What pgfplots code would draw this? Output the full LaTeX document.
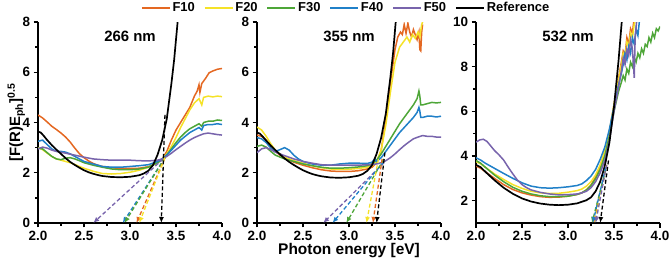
\documentclass[border=0pt]{standalone}
\usepackage{fontspec}
\setmainfont{Liberation Sans}
\usepackage{pgfplots}
\pgfplotsset{compat=1.18}
\usetikzlibrary{arrows.meta}
\definecolor{cA}{RGB}{228,104,34}
\definecolor{cB}{RGB}{245,226,40}
\definecolor{cC}{RGB}{78,166,56}
\definecolor{cD}{RGB}{32,128,200}
\definecolor{cE}{RGB}{120,100,172}
\tikzset{
  sA/.style={color=cA, line width=1.5bp},
  sB/.style={color=cB, line width=1.5bp},
  sC/.style={color=cC, line width=1.5bp},
  sD/.style={color=cD, line width=1.5bp},
  sE/.style={color=cE, line width=1.5bp},
  sR/.style={color=black, line width=1.7bp},
  dsh/.style={line width=1.3bp, dash pattern=on 4bp off 2.5bp, -{Latex[length=6bp,width=5bp]}},
}
\pgfplotsset{
  panel/.style={
    scale only axis, width=184bp, height=201bp,
    xmin=2, xmax=4,
    axis x line*=bottom, axis y line*=left,
    axis line style={line width=1.9bp},
    tick align=outside,
    major tick length=4.5bp, minor tick length=3bp,
    every tick/.style={line width=1.3bp, black},
    xtick={2,2.5,3,3.5,4}, minor x tick num=1,
    xticklabel style={/pgf/number format/.cd, fixed, fixed zerofill, precision=1},
    /pgf/number format/assume math mode=true,
    tick label style={font=\fontsize{13.5}{15}\selectfont\bfseries},
    clip=true,
  },
}
\begin{document}
\begin{tikzpicture}
\useasboundingbox (0,0) rectangle (669bp,264bp);
% ---------- Panel 1: 266 nm ----------
\begin{axis}[panel, at={(38bp,41bp)}, anchor=south west,
  ymin=0, ymax=8, ytick={0,2,4,6,8}, minor y tick num=1,
  ylabel={[F(R)E\textsubscript{ph}]\textsuperscript{0.5}},
  ylabel style={font=\fontsize{15}{17}\selectfont\bfseries, at={(axis description cs:-0.118,0.5)}, anchor=center, rotate=0},
]
\addplot[sA] coordinates {(2.00,4.30)(2.05,4.18)(2.10,4.02)(2.15,3.85)(2.20,3.72)(2.25,3.58)(2.30,3.42)(2.35,3.22)(2.40,2.98)(2.45,2.76)(2.50,2.60)(2.55,2.47)(2.60,2.37)(2.65,2.30)(2.70,2.25)(2.80,2.20)(2.90,2.17)(3.00,2.17)(3.10,2.18)(3.20,2.24)(3.25,2.31)(3.30,2.40)(3.35,2.55)(3.40,2.85)(3.45,3.30)(3.50,3.70)(3.55,4.00)(3.60,4.30)(3.65,4.60)(3.70,5.05)(3.73,5.25)(3.75,5.50)(3.76,5.20)(3.78,5.55)(3.82,5.75)(3.86,5.98)(3.90,6.05)(3.95,6.12)(4.00,6.15)};
\addplot[sB] coordinates {(2.00,3.00)(2.05,2.92)(2.10,2.78)(2.15,2.65)(2.20,2.55)(2.25,2.50)(2.30,2.45)(2.35,2.40)(2.40,2.33)(2.45,2.25)(2.50,2.18)(2.60,2.06)(2.70,1.97)(2.80,1.95)(2.90,1.97)(3.00,2.02)(3.10,2.10)(3.20,2.22)(3.30,2.42)(3.35,2.55)(3.40,2.75)(3.45,3.05)(3.50,3.40)(3.55,3.80)(3.60,4.15)(3.65,4.50)(3.70,4.78)(3.75,4.95)(3.78,4.70)(3.80,5.00)(3.85,5.05)(3.90,5.02)(3.95,5.05)(4.00,5.03)};
\addplot[sC] coordinates {(2.00,2.98)(2.05,2.95)(2.10,2.80)(2.15,2.65)(2.20,2.55)(2.25,2.52)(2.30,2.58)(2.35,2.60)(2.40,2.55)(2.45,2.48)(2.50,2.40)(2.60,2.30)(2.70,2.22)(2.80,2.15)(2.90,2.12)(3.00,2.12)(3.10,2.15)(3.20,2.22)(3.30,2.40)(3.35,2.52)(3.40,2.72)(3.45,2.95)(3.50,3.20)(3.55,3.42)(3.60,3.60)(3.65,3.75)(3.70,3.85)(3.75,3.95)(3.78,3.85)(3.80,4.00)(3.85,4.05)(3.90,4.05)(3.95,4.10)(4.00,4.08)};
\addplot[sD] coordinates {(2.00,3.25)(2.05,3.30)(2.10,3.12)(2.15,2.95)(2.20,2.85)(2.25,2.85)(2.30,2.82)(2.35,2.75)(2.40,2.65)(2.45,2.55)(2.50,2.45)(2.60,2.35)(2.70,2.25)(2.80,2.22)(2.90,2.22)(3.00,2.25)(3.10,2.28)(3.20,2.32)(3.30,2.45)(3.35,2.55)(3.40,2.70)(3.45,2.90)(3.50,3.10)(3.55,3.30)(3.60,3.45)(3.65,3.60)(3.70,3.70)(3.75,3.80)(3.78,3.70)(3.80,3.88)(3.85,3.92)(3.90,3.92)(3.95,3.95)(4.00,3.92)};
\addplot[sE] coordinates {(2.00,2.95)(2.05,3.02)(2.10,2.98)(2.15,2.90)(2.20,2.85)(2.30,2.78)(2.40,2.70)(2.50,2.62)(2.60,2.55)(2.70,2.52)(2.80,2.50)(2.90,2.50)(3.00,2.50)(3.10,2.48)(3.20,2.47)(3.30,2.50)(3.35,2.55)(3.40,2.65)(3.45,2.78)(3.50,2.92)(3.55,3.05)(3.60,3.18)(3.65,3.30)(3.70,3.40)(3.75,3.48)(3.80,3.55)(3.85,3.58)(3.90,3.55)(3.95,3.52)(4.00,3.50)};
\addplot[sR] coordinates {(2.00,3.64)(2.03,3.60)(2.06,3.48)(2.10,3.30)(2.15,3.10)(2.20,2.92)(2.25,2.75)(2.30,2.58)(2.35,2.43)(2.40,2.31)(2.45,2.20)(2.50,2.10)(2.55,2.02)(2.60,1.96)(2.65,1.91)(2.70,1.87)(2.80,1.83)(2.90,1.82)(3.00,1.84)(3.10,1.90)(3.15,1.97)(3.20,2.08)(3.25,2.30)(3.30,2.72)(3.35,3.30)(3.40,4.15)(3.45,5.55)(3.48,6.50)(3.52,8.10)(3.55,9.20)};
\addplot[dsh, cE] coordinates {(3.36,2.55)(2.60,0)};
\addplot[dsh, cD] coordinates {(3.38,2.60)(2.92,0)};
\addplot[dsh, cC] coordinates {(3.38,2.60)(2.94,0)};
\addplot[dsh, cA] coordinates {(3.38,2.60)(3.07,0)};
\addplot[dsh, cB] coordinates {(3.38,2.60)(3.10,0)};
\addplot[dsh, black] coordinates {(3.38,4.30)(3.34,0)};
\node[font=\fontsize{15}{17}\selectfont\bfseries] at (rel axis cs:0.5,0.93) {266 nm};
\end{axis}
% ---------- Panel 2: 355 nm ----------
\begin{axis}[panel, at={(257bp,41bp)}, anchor=south west,
  ymin=0, ymax=8, ytick={0,2,4,6,8}, minor y tick num=1,
  legend columns=6,
  legend style={draw=none, fill=none, at={(axis description cs:0.485,1.07)}, anchor=center,
    font=\fontsize{13}{15}\selectfont\bfseries,
    /tikz/every even column/.append style={column sep=7bp},
    inner sep=0pt},
  legend image code/.code={\draw[#1] (0bp,0bp) -- (28bp,0bp);},
]
\addplot[sA] coordinates {(2.00,3.50)(2.05,3.45)(2.10,3.30)(2.15,3.05)(2.20,2.85)(2.25,2.70)(2.30,2.58)(2.40,2.42)(2.50,2.30)(2.60,2.20)(2.70,2.12)(2.80,2.07)(2.90,2.05)(3.00,2.05)(3.10,2.08)(3.20,2.15)(3.25,2.22)(3.30,2.40)(3.35,2.90)(3.40,4.10)(3.45,5.60)(3.50,6.90)(3.53,7.40)(3.56,7.60)(3.58,7.50)(3.60,7.90)(3.62,7.55)(3.64,7.95)(3.66,7.60)(3.68,7.40)(3.70,7.70)(3.72,7.50)(3.74,7.30)(3.76,7.60)(3.77,6.90)(3.78,6.85)(3.79,7.60)(3.80,7.90)};
\addlegendentry{F10}
\addplot[sB] coordinates {(2.00,3.82)(2.05,3.70)(2.10,3.45)(2.15,3.15)(2.20,2.90)(2.25,2.75)(2.30,2.62)(2.40,2.48)(2.50,2.38)(2.60,2.28)(2.70,2.20)(2.80,2.15)(2.90,2.13)(3.00,2.14)(3.10,2.17)(3.20,2.22)(3.25,2.28)(3.30,2.45)(3.35,2.90)(3.40,3.90)(3.45,5.20)(3.50,6.40)(3.55,7.00)(3.60,7.25)(3.63,7.40)(3.66,7.20)(3.69,7.50)(3.72,7.35)(3.75,7.60)(3.77,7.40)(3.79,7.90)(3.80,8.00)};
\addlegendentry{F20}
\addplot[sC] coordinates {(2.00,3.05)(2.05,3.10)(2.10,3.02)(2.15,2.85)(2.20,2.70)(2.30,2.55)(2.40,2.45)(2.50,2.35)(2.60,2.28)(2.70,2.22)(2.80,2.18)(2.90,2.18)(3.00,2.20)(3.10,2.23)(3.20,2.28)(3.25,2.35)(3.30,2.50)(3.35,2.75)(3.40,3.05)(3.45,3.35)(3.50,3.65)(3.55,3.95)(3.60,4.20)(3.65,4.45)(3.70,4.70)(3.74,4.95)(3.76,5.25)(3.77,5.05)(3.78,4.70)(3.80,4.70)(3.85,4.75)(3.90,4.80)(3.95,4.78)(4.00,4.80)};
\addlegendentry{F30}
\addplot[sD] coordinates {(2.00,3.40)(2.05,3.35)(2.10,3.20)(2.15,2.98)(2.20,2.85)(2.25,2.92)(2.30,3.00)(2.35,2.90)(2.40,2.70)(2.45,2.55)(2.50,2.45)(2.60,2.35)(2.70,2.30)(2.80,2.30)(2.90,2.35)(3.00,2.38)(3.10,2.38)(3.20,2.37)(3.25,2.42)(3.28,2.55)(3.30,2.45)(3.35,2.60)(3.40,2.85)(3.45,3.10)(3.50,3.35)(3.55,3.60)(3.60,3.80)(3.65,4.00)(3.70,4.20)(3.74,4.40)(3.76,4.60)(3.77,4.45)(3.78,4.20)(3.80,4.20)(3.85,4.25)(3.90,4.25)(3.95,4.22)(4.00,4.25)};
\addlegendentry{F40}
\addplot[sE] coordinates {(2.00,2.80)(2.05,2.95)(2.10,3.00)(2.15,2.92)(2.20,2.82)(2.30,2.68)(2.40,2.55)(2.50,2.45)(2.60,2.38)(2.70,2.32)(2.80,2.30)(2.90,2.30)(3.00,2.30)(3.10,2.30)(3.20,2.32)(3.30,2.35)(3.35,2.40)(3.40,2.48)(3.45,2.60)(3.50,2.75)(3.55,2.92)(3.60,3.08)(3.65,3.22)(3.70,3.35)(3.75,3.42)(3.80,3.48)(3.85,3.45)(3.90,3.45)(3.95,3.42)(4.00,3.42)};
\addlegendentry{F50}
\addplot[sR] coordinates {(2.00,3.60)(2.03,3.56)(2.06,3.45)(2.10,3.28)(2.15,3.08)(2.20,2.90)(2.25,2.73)(2.30,2.57)(2.35,2.43)(2.40,2.31)(2.45,2.20)(2.50,2.10)(2.55,2.02)(2.60,1.95)(2.65,1.90)(2.70,1.86)(2.80,1.81)(2.90,1.80)(3.00,1.82)(3.10,1.88)(3.15,1.95)(3.20,2.08)(3.25,2.30)(3.30,2.75)(3.35,3.40)(3.40,4.35)(3.45,5.80)(3.48,6.80)(3.51,8.10)(3.54,9.20)};
\addlegendentry{Reference}
\addplot[dsh, cE, forget plot] coordinates {(3.38,2.40)(2.72,0)};
\addplot[dsh, cD, forget plot] coordinates {(3.38,2.45)(2.82,0)};
\addplot[dsh, cC, forget plot] coordinates {(3.38,2.55)(2.97,0)};
\addplot[dsh, cB, forget plot] coordinates {(3.32,2.55)(3.19,0)};
\addplot[dsh, cA, forget plot] coordinates {(3.36,2.55)(3.26,0)};
\addplot[dsh, black, forget plot] coordinates {(3.39,2.80)(3.30,0)};
\node[font=\fontsize{15}{17}\selectfont\bfseries] at (rel axis cs:0.5,0.93) {355 nm};
\end{axis}
% ---------- Panel 3: 532 nm ----------
\begin{axis}[panel, at={(476bp,41bp)}, anchor=south west,
  ymin=1, ymax=10, ytick={2,4,6,8,10}, minor ytick={3,5,7,9},
]
\addplot[sA] coordinates {(2.00,3.55)(2.05,3.45)(2.10,3.30)(2.20,3.00)(2.30,2.72)(2.40,2.50)(2.50,2.35)(2.60,2.25)(2.70,2.18)(2.80,2.15)(2.90,2.16)(3.00,2.20)(3.10,2.28)(3.15,2.35)(3.20,2.48)(3.25,2.70)(3.30,3.05)(3.35,3.55)(3.40,4.20)(3.45,5.10)(3.50,6.30)(3.55,7.50)(3.58,8.20)(3.60,8.70)(3.62,8.50)(3.64,9.30)(3.66,9.00)(3.68,9.70)(3.70,9.50)(3.72,10.2)};
\addplot[sB] coordinates {(2.00,3.75)(2.05,3.65)(2.10,3.50)(2.20,3.20)(2.30,2.95)(2.40,2.72)(2.50,2.55)(2.60,2.42)(2.70,2.35)(2.80,2.32)(2.90,2.33)(3.00,2.38)(3.10,2.45)(3.15,2.52)(3.20,2.65)(3.25,2.85)(3.30,3.15)(3.35,3.60)(3.40,4.20)(3.45,5.10)(3.50,6.30)(3.55,7.40)(3.58,8.10)(3.60,8.60)(3.62,8.40)(3.64,9.10)(3.66,8.90)(3.68,9.50)(3.70,9.30)(3.72,9.90)(3.74,10.2)};
\addplot[sC] coordinates {(2.00,3.80)(2.05,3.68)(2.10,3.50)(2.20,3.15)(2.30,2.85)(2.40,2.60)(2.50,2.42)(2.60,2.30)(2.70,2.22)(2.80,2.18)(2.90,2.18)(3.00,2.20)(3.10,2.28)(3.15,2.35)(3.20,2.48)(3.25,2.68)(3.30,2.98)(3.35,3.40)(3.40,4.00)(3.45,4.90)(3.50,6.00)(3.55,6.90)(3.58,7.30)(3.60,7.60)(3.62,7.40)(3.64,7.90)(3.66,7.70)(3.68,8.20)(3.70,8.00)(3.72,8.40)(3.74,8.20)(3.76,8.60)(3.78,8.40)(3.80,8.80)(3.82,8.60)(3.84,9.00)(3.86,8.90)(3.88,9.30)(3.90,9.10)(3.92,9.50)(3.94,9.30)(3.96,9.70)(3.98,9.60)(4.00,9.80)};
\addplot[sD] coordinates {(2.00,3.92)(2.05,3.82)(2.10,3.68)(2.20,3.45)(2.30,3.22)(2.40,3.00)(2.50,2.80)(2.60,2.65)(2.70,2.58)(2.80,2.56)(2.90,2.58)(3.00,2.62)(3.10,2.68)(3.15,2.75)(3.20,2.90)(3.25,3.10)(3.30,3.40)(3.35,3.85)(3.40,4.40)(3.45,5.20)(3.50,6.20)(3.55,7.20)(3.58,7.70)(3.60,8.10)(3.62,8.60)(3.64,8.30)(3.66,8.90)(3.68,8.60)(3.70,9.30)(3.72,9.00)(3.74,9.70)(3.76,9.40)(3.78,10.2)};
\addplot[sE] coordinates {(2.00,4.62)(2.04,4.72)(2.08,4.75)(2.12,4.65)(2.16,4.45)(2.20,4.25)(2.25,4.05)(2.30,3.82)(2.35,3.50)(2.40,3.20)(2.45,2.92)(2.50,2.72)(2.55,2.58)(2.60,2.48)(2.70,2.37)(2.80,2.30)(2.90,2.26)(3.00,2.27)(3.10,2.30)(3.15,2.35)(3.20,2.42)(3.25,2.58)(3.30,2.85)(3.35,3.25)(3.40,3.80)(3.45,4.70)(3.50,6.00)(3.55,7.10)(3.58,7.80)(3.60,8.40)(3.62,8.10)(3.64,8.80)(3.66,8.50)(3.68,9.20)(3.70,8.80)(3.72,7.50)(3.73,9.30)(3.75,10.2)};
\addplot[sR] coordinates {(2.00,3.60)(2.05,3.50)(2.10,3.30)(2.20,2.92)(2.30,2.58)(2.40,2.31)(2.50,2.10)(2.60,1.96)(2.70,1.87)(2.80,1.82)(2.90,1.80)(3.00,1.82)(3.10,1.88)(3.20,2.02)(3.25,2.15)(3.30,2.42)(3.35,2.85)(3.40,3.55)(3.45,4.60)(3.50,6.20)(3.55,8.30)(3.60,10.8)};
\addplot[dsh, cA] coordinates {(3.42,3.60)(3.28,1)};
\addplot[dsh, cB] coordinates {(3.42,3.60)(3.29,1)};
\addplot[dsh, cC] coordinates {(3.41,3.40)(3.26,1)};
\addplot[dsh, cD] coordinates {(3.41,3.50)(3.27,1)};
\addplot[dsh, cE] coordinates {(3.42,3.60)(3.30,1)};
\addplot[dsh, black] coordinates {(3.44,3.80)(3.35,1)};
\node[font=\fontsize{15}{17}\selectfont\bfseries] at (rel axis cs:0.5,0.93) {532 nm};
\end{axis}
\node[font=\fontsize{15.5}{17}\selectfont\bfseries] at (349bp,13bp) {Photon energy [eV]};
\end{tikzpicture}
\end{document}
